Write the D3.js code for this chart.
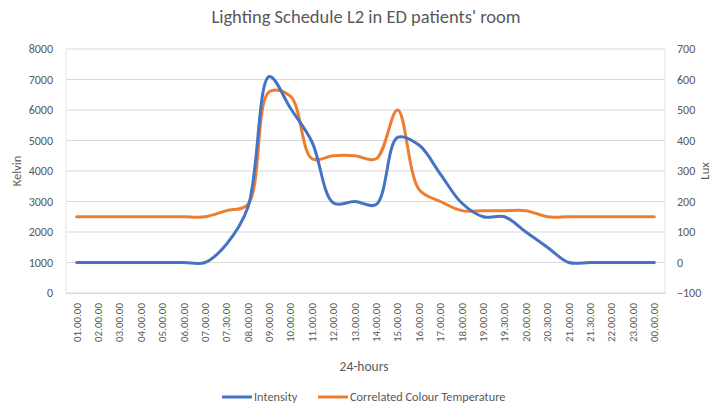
<!DOCTYPE html>
<html>
<head>
<meta charset="utf-8">
<script src="https://cdn.jsdelivr.net/npm/d3@7"></script>
<style>
  html, body { margin: 0; padding: 0; background: #fff; }
  svg { display: block; }
  text { font-family: Calibri, Carlito, Lato, "Open Sans", sans-serif; fill: #595959; }
</style>
</head>
<body>
<svg id="chart" width="717" height="403"></svg>
<script>
// Time slots along the x axis
const hours = [
  "01.00.00", "02.00.00", "03.00.00", "04.00.00", "05.00.00", "06.00.00",
  "07.00.00", "07.30.00", "08.00.00", "09.00.00", "10.00.00", "11.00.00",
  "12.00.00", "13.00.00", "14.00.00", "15.00.00", "16.00.00", "17.00.00",
  "18.00.00", "19.00.00", "19.30.00", "20.00.00", "20.30.00", "21.00.00",
  "21.30.00", "22.00.00", "23.00.00", "00.00.00"
];

// Illuminance (lux), plotted on the right axis
const intensityLux = [
  0, 0, 0, 0, 0, 0, 0, 60, 180, 610, 505, 395, 195, 200, 190, 410,
  385, 290, 195, 150, 150, 100, 50, 0, 0, 0, 0, 0
];

// Correlated colour temperature (K), plotted on the left axis
const cctKelvin = [
  2500, 2500, 2500, 2500, 2500, 2500, 2500, 2700, 2900, 6600, 6450, 4400,
  4500, 4500, 4400, 6000, 3400, 3000, 2700, 2700, 2700, 2700, 2500, 2500,
  2500, 2500, 2500, 2500
];

const kelvinTicks = [0, 1000, 2000, 3000, 4000, 5000, 6000, 7000, 8000];
const luxTicks = [-100, 0, 100, 200, 300, 400, 500, 600, 700];

const title = "Lighting Schedule L2 in ED patients' room";
const seriesNames = ["Intensity", "Correlated Colour Temperature"];
const colors = { intensity: "#4472C4", cct: "#ED7D31" };

const svg = d3.select("#chart");
const plot = { left: 66, right: 665, top: 49, bottom: 293 };

const x = d3.scaleBand().domain(hours).range([plot.left, plot.right]);
const yK = d3.scaleLinear().domain([0, 8000]).range([plot.bottom, plot.top]);
const yL = d3.scaleLinear().domain([-100, 700]).range([plot.bottom, plot.top]);
const cx = d => x(d) + x.bandwidth() / 2;

// Title
svg.append("text")
  .attr("x", 366).attr("y", 23)
  .attr("text-anchor", "middle")
  .style("font-size", "18.5px")
  .text(title);

// Horizontal gridlines
svg.append("g").selectAll("line")
  .data(kelvinTicks)
  .join("line")
  .attr("x1", plot.left).attr("x2", plot.right)
  .attr("y1", d => yK(d)).attr("y2", d => yK(d))
  .attr("stroke", "#d9d9d9").attr("stroke-width", 1);

// Side frame lines
[plot.left, plot.right].forEach(px => {
  svg.append("line")
    .attr("x1", px).attr("x2", px)
    .attr("y1", plot.top).attr("y2", plot.bottom)
    .attr("stroke", "#e4e4e4").attr("stroke-width", 1);
});

// Left axis (Kelvin)
const leftAxis = svg.append("g")
  .attr("transform", `translate(${plot.left - 13},0)`)
  .call(d3.axisLeft(yK).tickValues(kelvinTicks).tickSize(0).tickPadding(0).tickFormat(d3.format("d")));
leftAxis.select(".domain").remove();
leftAxis.selectAll("text").style("font-size", "12px").attr("fill", "#595959");

// Right axis (Lux)
const rightAxis = svg.append("g")
  .attr("transform", `translate(${plot.right + 12},0)`)
  .call(d3.axisRight(yL).tickValues(luxTicks).tickSize(0).tickPadding(0).tickFormat(d3.format("d")));
rightAxis.select(".domain").remove();
rightAxis.selectAll("text").style("font-size", "12px").attr("fill", "#595959");

// Bottom axis with rotated time labels
const bottomAxis = svg.append("g")
  .attr("transform", `translate(0,${plot.bottom})`)
  .call(d3.axisBottom(x).tickSize(0).tickPadding(0));
bottomAxis.select(".domain").attr("stroke", "#d9d9d9");
bottomAxis.selectAll("text")
  .style("font-size", "11px")
  .attr("fill", "#595959")
  .attr("text-anchor", "end")
  .attr("transform", "translate(0,10) rotate(-90)")
  .attr("x", 0).attr("y", 0).attr("dy", "0.35em");

// Axis titles
svg.append("text")
  .attr("transform", `translate(21,${(plot.top + plot.bottom) / 2}) rotate(-90)`)
  .attr("text-anchor", "middle")
  .style("font-size", "12.5px")
  .text("Kelvin");
svg.append("text")
  .attr("transform", `translate(709,${(plot.top + plot.bottom) / 2}) rotate(-90)`)
  .attr("text-anchor", "middle")
  .style("font-size", "12.5px")
  .text("Lux");
svg.append("text")
  .attr("x", 364).attr("y", 371)
  .attr("text-anchor", "middle")
  .style("font-size", "13.5px")
  .text("24-hours");

// Series lines
const curve = d3.curveCatmullRom.alpha(0.5);
const cctLine = d3.line()
  .x((d, i) => cx(hours[i]))
  .y(d => yK(d))
  .curve(curve);
const luxLine = d3.line()
  .x((d, i) => cx(hours[i]))
  .y(d => yL(d))
  .curve(curve);

svg.append("path")
  .datum(cctKelvin)
  .attr("d", cctLine)
  .attr("fill", "none")
  .attr("stroke", colors.cct)
  .attr("stroke-width", 3)
  .attr("stroke-linejoin", "round")
  .attr("stroke-linecap", "round");

svg.append("path")
  .datum(intensityLux)
  .attr("d", luxLine)
  .attr("fill", "none")
  .attr("stroke", colors.intensity)
  .attr("stroke-width", 3)
  .attr("stroke-linejoin", "round")
  .attr("stroke-linecap", "round");

// Legend
const legendItems = [
  { name: seriesNames[0], color: colors.intensity, x: 222 },
  { name: seriesNames[1], color: colors.cct, x: 318 }
];
const legend = svg.append("g");
legendItems.forEach(item => {
  legend.append("line")
    .attr("x1", item.x).attr("x2", item.x + 30)
    .attr("y1", 397).attr("y2", 397)
    .attr("stroke", item.color).attr("stroke-width", 3);
  legend.append("text")
    .attr("x", item.x + 32).attr("y", 397)
    .attr("dy", "0.35em")
    .style("font-size", "12.3px")
    .text(item.name);
});
</script>
</body>
</html>
